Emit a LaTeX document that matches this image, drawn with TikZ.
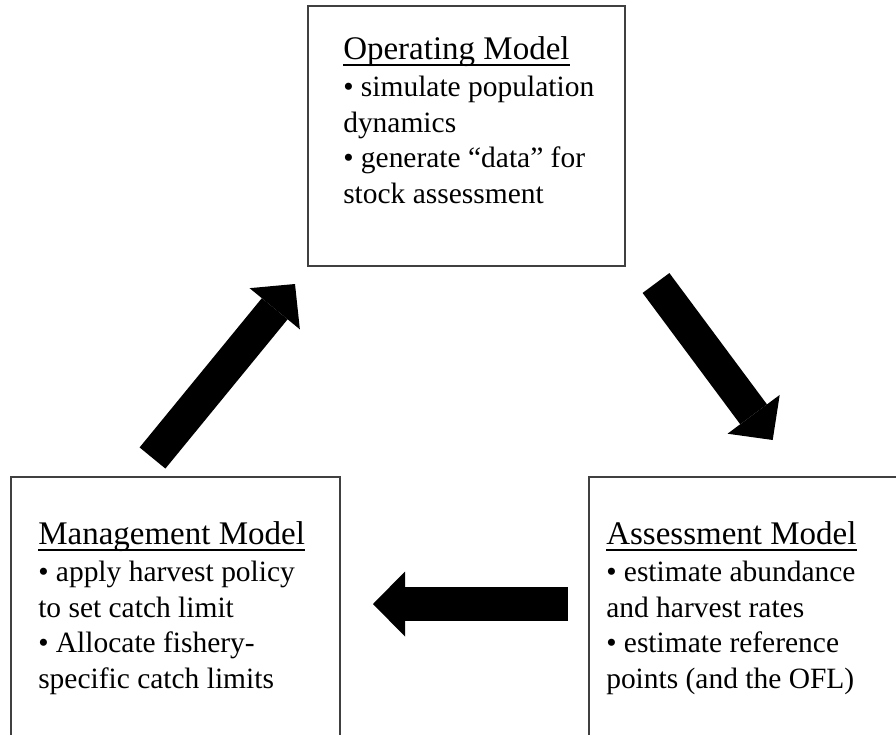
\documentclass[tikz,border=0pt]{standalone}
\usepackage{fontspec}
\setmainfont{Liberation Serif}
\usepackage{tikz}
\usetikzlibrary{arrows.meta}

\newsavebox{\titlebox}
\newcommand{\modeltitle}[1]{\sbox{\titlebox}{\fontsize{24.75pt}{26.6pt}\selectfont #1}%
  \rlap{\rule[-4.9pt]{\wd\titlebox}{1.5pt}}\usebox{\titlebox}}

\tikzset{
  modelbox/.style={draw=black!75, line width=1.5pt, inner sep=0pt},
  % anchored at the baseline of the last line
  modeltext/.style={anchor=base west, align=left, inner sep=0pt,
    font=\fontsize{22.1pt}{26.6pt}\selectfont},
  cyclearrow/.style={line width=25pt,
    -{Triangle[length=24pt, width=48.75pt, line width=0pt]}},
}

\begin{document}
\begin{tikzpicture}[x=0.75pt, y=-0.75pt]
  \useasboundingbox (0,0) rectangle (896,735);

  \node[modelbox, minimum width=237.75pt, minimum height=195pt] (om) at (466.5,136) {};
  \node[modelbox, minimum width=246.75pt, minimum height=201pt] (mm) at (175.5,611) {};
  \node[modelbox, minimum width=240.75pt, minimum height=201pt] (am) at (749.5,611) {};

  \node[modeltext] (om-text) at (343,203) {\modeltitle{Operating Model}\\[1.1pt]
    • simulate population\\ dynamics\\
    • generate “data” for\\ stock assessment};
  \node[modeltext] (mm-text) at (38,688) {\modeltitle{Management Model}\\[1.1pt]
    • apply harvest policy\\ to set catch limit\\
    • Allocate fishery-\\ specific catch limits};
  \node[modeltext] (am-text) at (606,688) {\modeltitle{Assessment Model}\\[1.1pt]
    • estimate abundance\\ and harvest rates\\
    • estimate reference\\ points (and the OFL)};

  % ends of the block arrows
  \coordinate (om-out) at (656,283);
  \coordinate (am-in) at (772.7,440);
  \coordinate (am-out) at (568,604);
  \coordinate (mm-in) at (373,604);
  \coordinate (mm-out) at (152.5,458);
  \coordinate (om-in) at (295,284);

  \draw[cyclearrow] (om-out) -- (am-in);
  \draw[cyclearrow] (am-out) -- (mm-in);
  \draw[cyclearrow] (mm-out) -- (om-in);
\end{tikzpicture}
\end{document}
